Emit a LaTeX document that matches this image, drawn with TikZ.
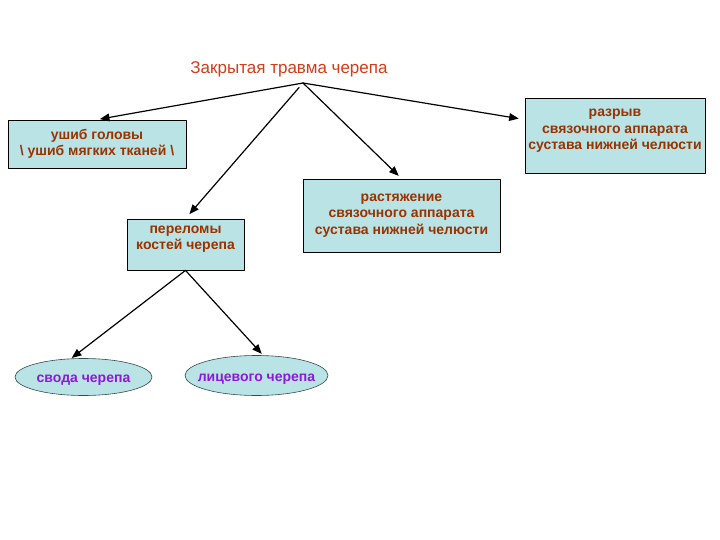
\documentclass[tikz,border=0pt]{standalone}
\usepackage{fontspec}
\setmainfont{Liberation Sans}
\usepackage{tikz}
\usetikzlibrary{arrows}
\usetikzlibrary{shapes.geometric}
\definecolor{bbeeee}{rgb}{0.73,0.89,0.9}
\definecolor{ccqqqq}{rgb}{0.82,0.24,0.1}
\definecolor{wwqqqq}{rgb}{0.6,0.2,0}
\definecolor{wqqqff}{rgb}{0.55,0.1,0.85}
\definecolor{qqwwww}{rgb}{0.2,0.3,0.32}
\tikzset{
  box/.style={draw=black,fill=bbeeee,line width=0.8pt,align=center,text=wwqqqq,
    font=\bfseries\fontsize{14}{16.5}\selectfont,inner sep=1pt},
  oval/.style={ellipse,draw=qqwwww,fill=bbeeee,line width=0.6pt,text=wqqqff,
    font=\bfseries\fontsize{14}{16}\selectfont,inner xsep=-12pt,inner ysep=0pt,
    text height=13pt,text depth=1.5pt},
  link/.style={->,line width=1.2pt,color=black}
}
\begin{document}
\begin{tikzpicture}[line cap=round,line join=round,>=triangle 45,x=1pt,y=-1pt]
\useasboundingbox (0,0) rectangle (720,540);
\node[text=ccqqqq,font=\fontsize{17}{19}\selectfont] (title) at (289,69) {Закрытая травма черепа};
\coordinate (top) at (303,83);
\node[box,minimum width=178pt,minimum height=48pt] (ushib) at (97,144) {ушиб головы\\\textbackslash{} ушиб мягких тканей \textbackslash};
\node[box,minimum width=180pt,minimum height=75pt] (razryv) at (615,135.5) {разрыв\\связочного аппарата\\сустава нижней челюсти\\[-4pt]\mbox{}};
\node[box,minimum width=197pt,minimum height=73pt] (rastyazh) at (401.5,215.5) {растяжение\\связочного аппарата\\сустава нижней челюсти};
\node[box,minimum width=117pt,minimum height=51pt] (perelomy) at (185.5,244.5) {переломы\\костей черепа\\[-3pt]\mbox{}};
\node[oval,minimum width=137pt,minimum height=37pt] (svoda) at (83.5,377) {свода черепа};
\node[oval,minimum width=143pt,minimum height=40pt] (litsevogo) at (256.5,375.5) {лицевого черепа};
% from the title
\draw[link,shorten >=3pt] (top) -- (ushib.north);
\draw[link,shorten <=6pt,shorten >=6pt] (top) -- (perelomy.north);
\draw[link,shorten >=4pt] (top) -- (rastyazh.north);
\draw[link,shorten >=6pt] (top) -- (razryv.170);
% fractures
\draw[link,shorten >=1pt] (perelomy.south) -- (svoda.124);
\draw[link,shorten >=2pt] (perelomy.south) -- (litsevogo.72);
\end{tikzpicture}
\end{document}
